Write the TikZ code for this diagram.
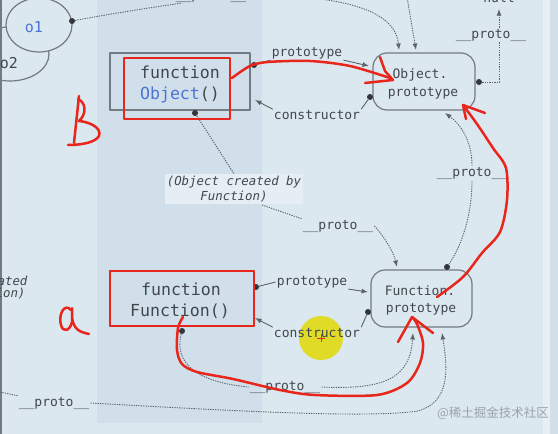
\documentclass[tikz,border=0pt]{standalone}
\usepackage{fontspec}
\setmonofont{DejaVu Sans Mono}[ItalicFont={DejaVu Sans Mono Oblique}]
\newfontfamily\cjk{Noto Sans CJK SC}
\usetikzlibrary{arrows.meta,shapes.geometric}
\definecolor{bg}{HTML}{DCE8F0}
\definecolor{band}{HTML}{D1DFEA}
\definecolor{ink}{HTML}{41474C}
\definecolor{lncol}{HTML}{5C6369}
\definecolor{boxcol}{HTML}{737A80}
\definecolor{objblue}{HTML}{4A74D6}
\definecolor{ann}{HTML}{E8261C}
\definecolor{hl}{HTML}{E0DB26}
\definecolor{wm}{HTML}{9AA3A9}
\begin{document}
\begin{tikzpicture}[x=1pt,y=-1pt,line join=round,
  sl/.style={draw=lncol, line width=0.9pt},
  dl/.style={draw=lncol, line width=0.9pt, dash pattern=on 1.3pt off 1.1pt},
  arr/.style={-{Latex[length=6.5pt,width=5pt]}},
  dotm/.style={circle, fill=lncol!55!black, inner sep=0pt, minimum size=6pt},
  lbl/.style={font=\ttfamily\fontsize{13}{15}\selectfont, text=ink, inner sep=1pt},
  btx/.style={font=\ttfamily\fontsize{16.6}{20}\selectfont, text=ink, inner sep=0pt},
  ptx/.style={font=\ttfamily\fontsize{13}{15}\selectfont, text=ink, inner sep=0pt},
  fbox/.style={draw=boxcol, line width=1.2pt, inner sep=0pt},
  pbox/.style={draw=boxcol, line width=1.2pt, rounded corners=14pt, inner sep=0pt},
  redl/.style={draw=ann, line width=2.5pt, line cap=round, line join=round}
]
\useasboundingbox (0,0) rectangle (558,434);
% background
\fill[bg] (0,0) rectangle (558,434);
\fill[band] (97,0) rectangle (262,423);
\fill[bg!70!white] (543,0) rectangle (550,434);
\fill[band] (550,0) rectangle (558,434);
\fill[boxcol] (0,0) rectangle (1.5,434);

% o2 and o1
\node[draw=boxcol, line width=1.2pt, ellipse, minimum width=78pt, minimum height=54pt, inner sep=0pt] (o2) at (10,54) {};
\node[draw=boxcol, fill=bg, line width=1.2pt, ellipse, minimum width=66pt, minimum height=54pt, inner sep=0pt] (o1) at (39,25) {};
\node[font=\ttfamily\fontsize{15}{17}\selectfont, text=objblue] (o1t) at (34,27) {o1};
\node[font=\ttfamily\fontsize{15}{17}\selectfont, text=ink] (o2t) at (9,63) {o2};

% boxes
\node[fbox, minimum width=140pt, minimum height=57pt] (obj) at (180,81.5) {};
\node[btx] (objt1) at (180,72) {function};
\node[btx] (objt2) at (180,95) {\textcolor{objblue}{Object}()};
\node[fbox, minimum width=144pt, minimum height=55pt] (fun) at (182,298.5) {};
\node[btx] (funt1) at (181,289) {function};
\node[btx] (funt2) at (180,311) {Function()};
\node[pbox, minimum width=102pt, minimum height=57pt] (opr) at (424,81.5) {};
\node[ptx] (oprt1) at (420,75) {Object.};
\node[ptx] (oprt2) at (423,93) {prototype};
\node[pbox, minimum width=101pt, minimum height=57pt] (fpr) at (421.5,298.5) {};
\node[ptx] (fprt1) at (420,291) {Function.};
\node[ptx] (fprt2) at (421,309) {prototype};

% highlight circle (cursor)
\fill[hl] (321,338) circle (22);
\draw[ann, line width=1pt] (317,338) -- (325,338) (321,334) -- (321,342);

% labels
\node[lbl] (lp1) at (307,53) {prototype};
\node[lbl] (lc1) at (317,115) {constructor};
\node[font=\ttfamily\itshape\fontsize{12.4}{15}\selectfont, text=ink, align=center,
  fill=bg!75!white, inner sep=2pt] (cr) at (234,189) {(Object created by\\Function)};
\node[lbl] (lpr2) at (338,226) {\_\_proto\_\_};
\node[lbl] (lpr3) at (472,173) {\_\_proto\_\_};
\node[lbl] (lpr4) at (491,35) {\_\_proto\_\_};
\node[lbl, anchor=base] (ltop) at (211,-0.5) {\_\_proto\_\_};
\node[lbl, anchor=base] (nul) at (499,2.5) {null};
\node[lbl] (lp2) at (312,282) {prototype};
\node[lbl] (lc2) at (317,333) {constructor};
\node[lbl] (lpr5) at (285,387) {\_\_proto\_\_};
\node[lbl] (lpr6) at (54,403) {\_\_proto\_\_};
\node[font=\ttfamily\itshape\fontsize{12.4}{15}\selectfont, text=ink, anchor=east] (cut1) at (31,281) {ated};
\node[font=\ttfamily\itshape\fontsize{12.4}{15}\selectfont, text=ink, anchor=east] (cut2) at (29,294) {ion)};
\node[font=\cjk\fontsize{12.5}{14}\selectfont, text=wm] (wmk) at (493,413) {@稀土掘金技术社区};

% dots
\node[dotm] (d1) at (254,65) {};
\node[dotm] (d2) at (370,97) {};
\node[dotm] (d3) at (195,113) {};
\node[dotm] (d4) at (447,267) {};
\node[dotm] (d5) at (479,82) {};
\node[dotm] (d6) at (72,21) {};
\node[dotm] (d7) at (256,287) {};
\node[dotm] (d8) at (368,312) {};
\node[dotm] (d9) at (182,331) {};

% coordinates
\coordinate (t1) at (369,66);
\coordinate (t2) at (255,100);
\coordinate (t3) at (397,267);
\coordinate (t4) at (445,113);
\coordinate (t5) at (499,9);
\coordinate (t6) at (399,50);
\coordinate (t7) at (416,50);
\coordinate (t8) at (368,292);
\coordinate (t9) at (255,318);
\coordinate (t10) at (413,333);
\coordinate (t11) at (442,333);
\coordinate (c3) at (262,205);
\coordinate (c5) at (499,82);
\coordinate (c6) at (182,3);
\coordinate (c7) at (300,-3);
\coordinate (c8) at (407,-3);
\coordinate (c11) at (418,411);
\coordinate (c12) at (0,392);

% connectors
\draw[sl] (d1) -- (lp1.south west);
\draw[sl,arr] (lp1.south east) -- (t1);
\draw[sl] (d2) -- (lc1.north east);
\draw[sl,arr] (lc1.north west) -- (t2);
\draw[dl] (d3) -- (cr.north);
\draw[dl] (c3) -- (lpr2.north west);
\draw[dl,arr] (lpr2.east) .. controls (382,234) and (393,250) .. (t3);
\draw[dl] (d4) .. controls (462,245) and (472,215) .. (lpr3.south);
\draw[dl,arr] (lpr3.north) .. controls (472,140) and (460,124) .. (t4);
\draw[dl] (d5) -- (c5) -- (c5 |- lpr4.south);
\draw[dl,arr] (c5 |- lpr4.north) -- (t5);
\draw[dl] (d6) .. controls (115,13) and (155,7) .. (c6);
\draw[dl,arr] (c7) .. controls (365,2) and (396,18) .. (t6);
\draw[dl,arr] (c8) -- (t7);
\draw[sl] (d7) -- (lp2.west);
\draw[sl,arr] (lp2.south east) -- (t8);
\draw[sl] (d8) -- (lc2.north east);
\draw[sl,arr] (lc2.north west) -- (t9);
\draw[dl] (d9) .. controls (174,362) and (195,382) .. (lpr5.west);
\draw[dl,arr] (lpr5.east) .. controls (385,390) and (410,378) .. (t10);
\draw[dl,arr] (lpr6.east) .. controls (250,412) and (370,418) .. (c11) .. controls (450,402) and (448,370) .. (t11);
\draw[dl] (c12) -- (lpr6.north west);

% red annotations
\draw[redl] (124,58) rectangle (230,119);
\draw[redl] (110,271) rectangle (254,326);
\draw[redl] plot[smooth] coordinates {(232,78) (250,66) (268,62) (310,61) (350,66) (390,78)};
\draw[redl] (380,57) -- (385,71) -- (393,80) -- (365,83);
\draw[redl] plot[smooth] coordinates {(437,297) (463,277) (482,253) (500,232) (507,200) (506,168) (493,148) (477,124) (463,105)};
\draw[redl] (463,105) -- (485,113);
\draw[redl] (463,105) -- (466,119);
\draw[redl] plot[smooth] coordinates {(183,317) (178,328) (177,350) (182,364) (197,372) (233,379) (280,390) (315,395) (377,395) (407,383) (420,363) (423,343) (417,324) (412,317)};
\draw[redl] (398,342) -- (412,317) -- (433,333);
% B
\draw[redl] (74,143) -- (79,96);
\draw[redl] (78,99) .. controls (87,103) and (86,115) .. (79,121) .. controls (90,122) and (102,128) .. (99,136) .. controls (95,143) and (80,145) .. (68,145);
% a
\draw[redl] (71,310) .. controls (64,302) and (58,316) .. (61,325) .. controls (63,333) and (70,331) .. (72,322) -- (72,308);
\draw[redl] (72,318) .. controls (74,330) and (80,332) .. (89,334);
\end{tikzpicture}
\end{document}
